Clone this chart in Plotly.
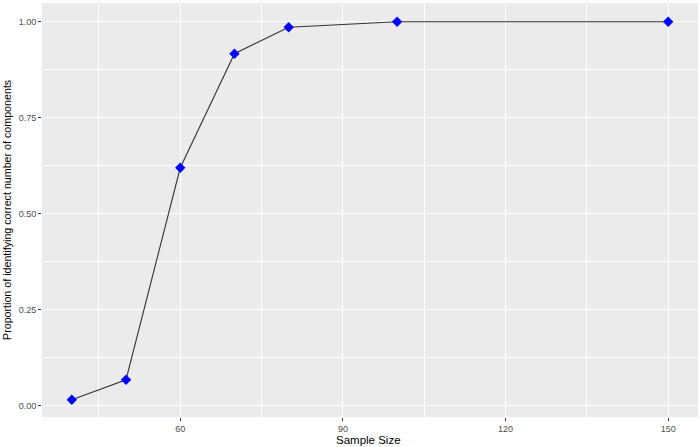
import plotly.graph_objects as go

sample_size = [40, 50, 60, 70, 80, 100, 150]
proportion = [0.016, 0.068, 0.620, 0.917, 0.986, 1.0, 1.0]
x_ticks = [60, 90, 120, 150]
y_ticks = [0.0, 0.25, 0.5, 0.75, 1.0]
y_tick_labels = ["0.00", "0.25", "0.50", "0.75", "1.00"]

fig = go.Figure()
fig.add_trace(go.Scatter(
    x=sample_size, y=proportion, mode="lines+markers",
    line=dict(color="#333333", width=1.1),
    marker=dict(symbol="diamond", size=8, color="#0000FF", line=dict(width=0)),
    showlegend=False,
))

axis_font = dict(family="Liberation Sans, Arial, sans-serif", size=9, color="#4D4D4D")
fig.update_layout(
    width=700, height=447,
    margin=dict(l=42, r=2, t=3, b=30),
    paper_bgcolor="white",
    plot_bgcolor="#EBEBEB",
    font=dict(family="Liberation Sans, Arial, sans-serif"),
    xaxis=dict(
        range=[34.5, 155.5], tickvals=x_ticks, ticktext=[str(v) for v in x_ticks],
        showgrid=True, gridcolor="white", gridwidth=1.1, zeroline=False,
        ticks="outside", ticklen=3, tickcolor="#333333", tickwidth=1,
        tickfont=axis_font, automargin=False,
        minor=dict(tickvals=[45, 75, 105, 135], showgrid=True, gridcolor="white", gridwidth=0.5, ticks=""),
        showline=False,
    ),
    yaxis=dict(
        range=[-0.029, 1.049], tickvals=y_ticks, ticktext=y_tick_labels,
        showgrid=True, gridcolor="white", gridwidth=1.1, zeroline=False,
        ticks="outside", ticklen=3, tickcolor="#333333", tickwidth=1,
        tickfont=axis_font, automargin=False,
        minor=dict(tickvals=[0.125, 0.375, 0.625, 0.875], showgrid=True, gridcolor="white", gridwidth=0.5, ticks=""),
        showline=False,
    ),
    annotations=[
        dict(text="Sample Size", xref="paper", yref="paper", x=(368 - 42) / 656, y=(417 - 440) / 414,
             xanchor="center", yanchor="middle", showarrow=False,
             font=dict(size=11.5, color="black")),
        dict(text="Proportion of identifying correct number of components", xref="paper", yref="paper",
             x=(7 - 42) / 656, y=(417 - 210) / 414, textangle=-90,
             xanchor="center", yanchor="middle", showarrow=False,
             font=dict(size=10.7, color="black")),
    ],
)

fig.write_html("out.html", config={"displayModeBar": False},
               post_script="document.body.style.margin='0px';document.body.style.overflow='hidden';")
